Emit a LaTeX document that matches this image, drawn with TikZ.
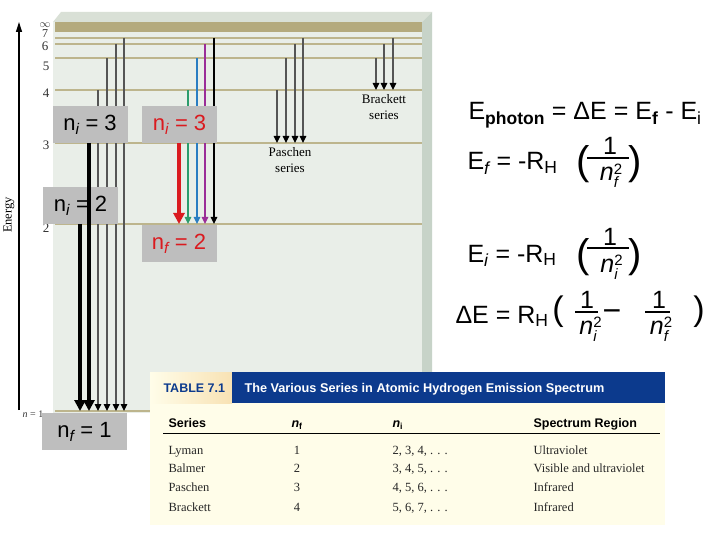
\documentclass[tikz,border=0pt]{standalone}
\usepackage{amsmath}
\usepackage{fontspec}
\setmainfont{Liberation Sans}
\newfontfamily\timesfont{Liberation Serif}
\usetikzlibrary{positioning,arrows.meta}

\definecolor{panelbg}{HTML}{E9EEE8}
\definecolor{paneltop}{HTML}{D9E0D6}
\definecolor{panelside}{HTML}{C7D3C8}
\definecolor{infband}{HTML}{B4AA7D}
\definecolor{levelcol}{HTML}{BDB58D}
\definecolor{boxgray}{HTML}{BEBEBE}
\definecolor{linegray}{HTML}{555555}
\definecolor{balred}{HTML}{DA1A1F}
\definecolor{balgreen}{HTML}{2C9C6C}
\definecolor{balblue}{HTML}{2A7DC2}
\definecolor{balpurple}{HTML}{9B2D98}
\definecolor{tabnavy}{HTML}{0C3A8D}
\definecolor{tabcream}{HTML}{FFFDE9}
\definecolor{tabpeach}{HTML}{F8E2B4}

\newcommand\fsz[1]{\fontsize{#1}{#1}\selectfont}
% n squared with a subscript, as in the denominators
\newcommand\nsq[1]{\textit{n}\rlap{\raisebox{6.5pt}{\fsz{15}2}}\raisebox{-7pt}{\fsz{15}\itshape #1}\hspace{5pt}}

\begin{document}
\begin{tikzpicture}[x=1pt, y=-1pt,
  thinarrow/.style={line width=1.2pt, draw=linegray, -{Triangle[length=7pt,width=6.5pt,color=black]}},
  thickarrow/.style={line width=4pt, -{Triangle[length=11pt,width=11pt]}},
  colorarrow/.style={line width=1.4pt, draw=#1, -{Triangle[length=7pt,width=6.5pt,color=#1]}},
  level/.style={draw=levelcol, line width=1.5pt},
  levelnum/.style={font=\timesfont\fsz{13}, text=black!80, inner sep=0pt},
  nlabel/.style={fill=boxgray, minimum height=37pt, minimum width=75pt, inner sep=0pt, font=\fsz{22}},
  seriesname/.style={font=\timesfont\fontsize{13}{15.5}\selectfont, align=center, inner sep=0pt},
  formula/.style={anchor=base west, font=\fsz{25}},
  paren/.style={anchor=base, font=\fsz{40}},
  fracpart/.style={anchor=base, font=\fsz{25}, inner sep=0pt},
  fracbar/.style={line width=2.5pt},
  tabhead/.style={anchor=base west, font=\bfseries\fsz{12.5}},
  tabcell/.style={anchor=base west, font=\timesfont\fsz{12.5}, text=black!85},
]
  % Background
  \useasboundingbox (0,0) rectangle (720,540);
  \fill[white] (0,0) rectangle (720,540);

  % Energy level panel
  \fill[paneltop] (53,22) -- (61,12) -- (432,12) -- (422,22) -- cycle;
  \fill[panelside] (422,22) -- (432,12) -- (432,372) -- (422,372) -- cycle;
  \fill[panelbg] (53,22) rectangle (422,413);
  \fill[infband] (55,22) rectangle (422,32);
  \draw[level] (55,38) -- (422,38);
  \draw[level] (55,44) -- (422,44);
  \draw[level] (55,58) -- (422,58);
  \draw[level] (55,90) -- (422,90);
  \draw[level] (55,143) -- (422,143);
  \draw[level] (55,224) -- (422,224);
  \draw[level] (55,411) -- (422,411);

  % Level numbers
  \node[levelnum, font=\fsz{11}] (linf) at (45,25) {$\infty$};
  \node[levelnum, font=\timesfont\fsz{12}] (l7) at (45,34) {7};
  \node[levelnum] (l6) at (45,46) {6};
  \node[levelnum] (l5) at (46,66) {5};
  \node[levelnum] (l4) at (46,93) {4};
  \node[levelnum] (l3) at (46,145) {3};
  \node[levelnum] (l2) at (46,228) {2};
  \node[font=\timesfont\fsz{10}, text=black!80] (l1) at (33,414) {\textit{n} = 1};

  % Energy axis
  \coordinate (ebot) at (19,410);
  \coordinate (etop) at (19,22);
  \draw[line width=1.3pt, -{Triangle[length=10pt,width=6pt]}] (ebot) -- (etop);
  \node[rotate=90, font=\timesfont\fsz{12.5}] (energy) at (9,215) {Energy};

  % Lyman series
  \draw[thinarrow] (98,90) -- (98,411);
  \draw[thinarrow] (107,58) -- (107,411);
  \draw[thinarrow] (116,44) -- (116,411);
  \draw[thinarrow] (124,38) -- (124,411);

  % Balmer series
  \draw[colorarrow=balgreen] (188,90) -- (188,224);
  \draw[colorarrow=balblue] (197,58) -- (197,224);
  \draw[colorarrow=balpurple] (205,44) -- (205,224);
  \draw[colorarrow=black] (214,38) -- (214,224);

  % Paschen series
  \draw[thinarrow] (277,90) -- (277,143);
  \draw[thinarrow] (286,58) -- (286,143);
  \draw[thinarrow] (295,44) -- (295,143);
  \draw[thinarrow] (303,38) -- (303,143);
  \node[seriesname] (paschen) at (290,160) {Paschen\\series};

  % Brackett series
  \draw[thinarrow] (376,58) -- (376,90);
  \draw[thinarrow] (384,44) -- (384,90);
  \draw[thinarrow] (393,38) -- (393,90);
  \node[seriesname] (brackett) at (384,107) {Brackett\\series};

  % Quantum number labels
  \node[nlabel] (ni3a) at (90,124.5) {n$_{\textit{i}}$ = 3};
  \node[nlabel, text=balred] (ni3b) at (179.5,124.5) {n$_{\textit{i}}$ = 3};
  \node[nlabel] (ni2) at (80.5,205.5) {n$_{\textit{i}}$ = 2};
  \node[nlabel, text=balred] (nf2) at (179,243.5) {n$_{\textit{f}}$ = 2};
  \node[nlabel, minimum width=85pt] (nf1) at (84.5,431.5) {n$_{\textit{f}}$ = 1};

  % Highlighted transitions
  \draw[thickarrow] (80,224) -- (80,411);
  \draw[thickarrow] (89,143) -- (89,411);
  \draw[thickarrow, balred] (179,143) -- (179,224);

  % Formulas
  \node[formula] (ephoton) at (465,120) {E$_{\textbf{photon}}$ = ΔE = E$_{\textbf{f}}$ - E$_{\text{i}}$};

  \node[formula] (ef) at (464,170) {E$_{\textit{f}}$ = -R$_{\text{H}}$};
  \node[paren] (efopen) at (583,175) {(};
  \node[fracpart] (efnum) at (610,155) {1};
  \draw[fracbar] (587,158) -- (629,158);
  \node[fracpart] (efden) at (609,181) {\nsq{f}};
  \node[paren] (efclose) at (635,175) {)};

  \node[formula] (ei) at (464,262) {E$_{\textit{i}}$ = -R$_{\text{H}}$};
  \node[paren] (eiopen) at (583,267.5) {(};
  \node[fracpart] (einum) at (610,245) {1};
  \draw[fracbar] (587,248) -- (629,248);
  \node[fracpart] (eiden) at (609,272) {\nsq{i}};
  \node[paren] (eiclose) at (635,267.5) {)};

  \node[formula] (de) at (452,323) {ΔE = R$_{\text{H}}$};
  \node[paren, font=\fsz{34}] (deopen) at (558,320) {(};
  \node[fracpart] (denumi) at (587,308) {1};
  \draw[fracbar] (575,312) -- (598,312);
  \node[fracpart] (dedeni) at (588,334) {\nsq{i}};
  \node[anchor=base, font=\fsz{32}] (deminus) at (612,321.5) {−};
  \node[fracpart] (denumf) at (659,308) {1};
  \draw[fracbar] (645,312) -- (670,312);
  \node[fracpart] (dedenf) at (659,334) {\nsq{f}};
  \node[paren, font=\fsz{34}] (declose) at (699,320) {)};

  % Table 7.1
  \fill[tabcream] (150,403) rectangle (665,525);
  \shade[left color=tabcream, right color=tabpeach] (150,372) rectangle (232,403);
  \fill[tabnavy] (232,372) rectangle (665,403);
  \node[tabhead, text=tabnavy] (tabno) at (160,392) {TABLE 7.1};
  \node[tabhead, text=white, font=\bfseries\fsz{12.7}] (tabtitle) at (241,392) {The Various Series in Atomic Hydrogen Emission Spectrum};

  \node[tabhead] (hseries) at (165,427) {Series};
  \node[tabhead] (hnf) at (288,427) {\textit{n}$_{\textbf{f}}$};
  \node[tabhead] (hni) at (389,427) {\textit{n}$_{\textbf{i}}$};
  \node[tabhead] (hregion) at (530,427) {Spectrum Region};
  \draw[line width=0.8pt] (163,433) -- (660,433);

  \node[tabcell] (lyman) at (165,454) {Lyman};
  \node[tabcell, anchor=base] (lymanf) at (297,454) {1};
  \node[tabcell] (lymani) at (389,454) {2, 3, 4, . . .};
  \node[tabcell] (lymanr) at (530,454) {Ultraviolet};

  \node[tabcell] (balmer) at (165,472) {Balmer};
  \node[tabcell, anchor=base] (balmerf) at (297,472) {2};
  \node[tabcell] (balmeri) at (389,472) {3, 4, 5, . . .};
  \node[tabcell] (balmerr) at (530,472) {Visible and ultraviolet};

  \node[tabcell] (paschenrow) at (165,491) {Paschen};
  \node[tabcell, anchor=base] (paschenf) at (297,491) {3};
  \node[tabcell] (pascheni) at (389,491) {4, 5, 6, . . .};
  \node[tabcell] (paschenr) at (530,491) {Infrared};

  \node[tabcell] (brackettrow) at (165,511) {Brackett};
  \node[tabcell, anchor=base] (brackettf) at (297,511) {4};
  \node[tabcell] (bracketti) at (389,511) {5, 6, 7, . . .};
  \node[tabcell] (brackettr) at (530,511) {Infrared};
\end{tikzpicture}
\end{document}
